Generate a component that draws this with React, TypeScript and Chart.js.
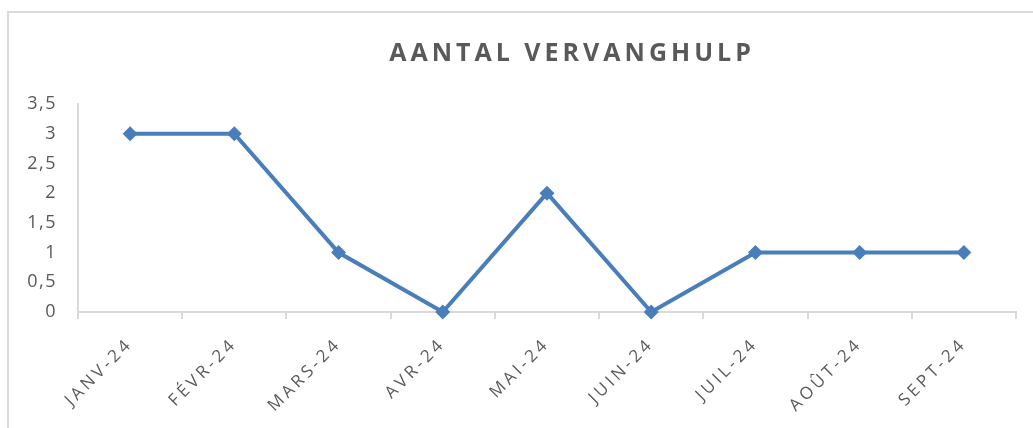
import React, { useEffect, useRef } from 'react';
import { Chart, registerables, CategoryScale, LinearScale } from 'chart.js';

Chart.register(...registerables);

const TITLE = 'AANTAL VERVANGHULP';
const categories = ['JANV-24', 'FÉVR-24', 'MARS-24', 'AVR-24', 'MAI-24', 'JUIN-24', 'JUIL-24', 'AOÛT-24', 'SEPT-24'];
const values = [3, 3, 1, 0, 2, 0, 1, 1, 1];
const yMin = 0;
const yMax = 3.5;
const yStep = 0.5;

const FONT = '"Open Sans", "Noto Sans", sans-serif';
const X_SPACING = '3.5px';
const Y_SPACING = '1.5px';

class SpacedCategoryScale extends (CategoryScale as any) {
  static id = 'spacedCategory';
  static defaults = (CategoryScale as any).defaults;
  drawLabels(area: any) {
    const ctx = (this as any).ctx;
    const prev = ctx.letterSpacing;
    ctx.letterSpacing = X_SPACING;
    super.drawLabels(area);
    ctx.letterSpacing = prev;
  }
}

class SpacedLinearScale extends (LinearScale as any) {
  static id = 'spacedLinear';
  static defaults = (LinearScale as any).defaults;
  drawLabels(area: any) {
    const ctx = (this as any).ctx;
    const prev = ctx.letterSpacing;
    ctx.letterSpacing = Y_SPACING;
    super.drawLabels(area);
    ctx.letterSpacing = prev;
  }
}

Chart.register(SpacedCategoryScale as any, SpacedLinearScale as any);

const titlePlugin = {
  id: 'offsetTitle',
  afterDraw(chart: any) {
    const ctx = chart.ctx;
    ctx.save();
    ctx.font = 'bold 25px ' + FONT;
    ctx.fillStyle = '#595959';
    ctx.letterSpacing = '4px';
    ctx.textAlign = 'center';
    ctx.textBaseline = 'alphabetic';
    ctx.fillText(TITLE, 572, 61);
    ctx.restore();
  },
};

export default function App() {
  const ref = useRef<HTMLCanvasElement>(null);

  useEffect(() => {
    if (!ref.current) return;
    const chart = new Chart(ref.current, {
      type: 'line',
      data: {
        labels: categories,
        datasets: [
          {
            data: values,
            borderColor: '#4a7ebb',
            backgroundColor: '#4a7ebb',
            borderWidth: 4,
            pointStyle: 'rectRot',
            pointRadius: 7.5,
            pointBorderWidth: 0,
            pointBackgroundColor: '#4a7ebb',
            pointBorderColor: '#4a7ebb',
            tension: 0,
            clip: false as any,
          },
        ],
      },
      options: {
        responsive: false,
        animation: false,
        devicePixelRatio: 1,
        layout: { padding: { top: 104, right: 17, bottom: 0, left: 0 } },
        plugins: {
          legend: { display: false },
          tooltip: { enabled: false },
          title: { display: false },
        },
        scales: {
          x: {
            type: 'spacedCategory' as any,
            offset: true,
            grid: {
              offset: true,
              drawOnChartArea: false,
              drawTicks: true,
              tickLength: 7,
              color: '#d9d9d9',
              lineWidth: 2,
            },
            border: { display: true, color: '#d9d9d9', width: 2 },
            ticks: {
              color: '#595959',
              font: { family: FONT, size: 17 },
              maxRotation: 45,
              minRotation: 45,
              padding: 15,
              autoSkip: false,
            },
            afterFit: (s: any) => {
              s.height = 116;
            },
          } as any,
          y: {
            type: 'spacedLinear' as any,
            min: yMin,
            max: yMax,
            grid: { display: false, drawTicks: false },
            border: { display: true, color: '#d9d9d9', width: 2 },
            ticks: {
              stepSize: yStep,
              color: '#595959',
              font: { family: FONT, size: 18 },
              padding: 21,
              callback: (v: any) => String(v).replace('.', ','),
            },
            afterFit: (s: any) => {
              s.width = 78;
            },
          } as any,
        },
      },
      plugins: [titlePlugin],
    });
    return () => chart.destroy();
  }, []);

  return (
    <>
      <style>{`html,body{margin:0;padding:0;overflow:hidden;background:#fff;}`}</style>
      <div style={{ position: 'relative', width: 1033, height: 428, overflow: 'hidden', background: '#fff' }}>
        <div
          style={{
            position: 'absolute',
            left: 7,
            top: 11,
            width: 1200,
            height: 600,
            borderTop: '2px solid #dadada',
            borderLeft: '2px solid #dadada',
          }}
        />
        <canvas ref={ref} width={1033} height={428} style={{ position: 'absolute', left: 0, top: 0 }} />
      </div>
    </>
  );
}
